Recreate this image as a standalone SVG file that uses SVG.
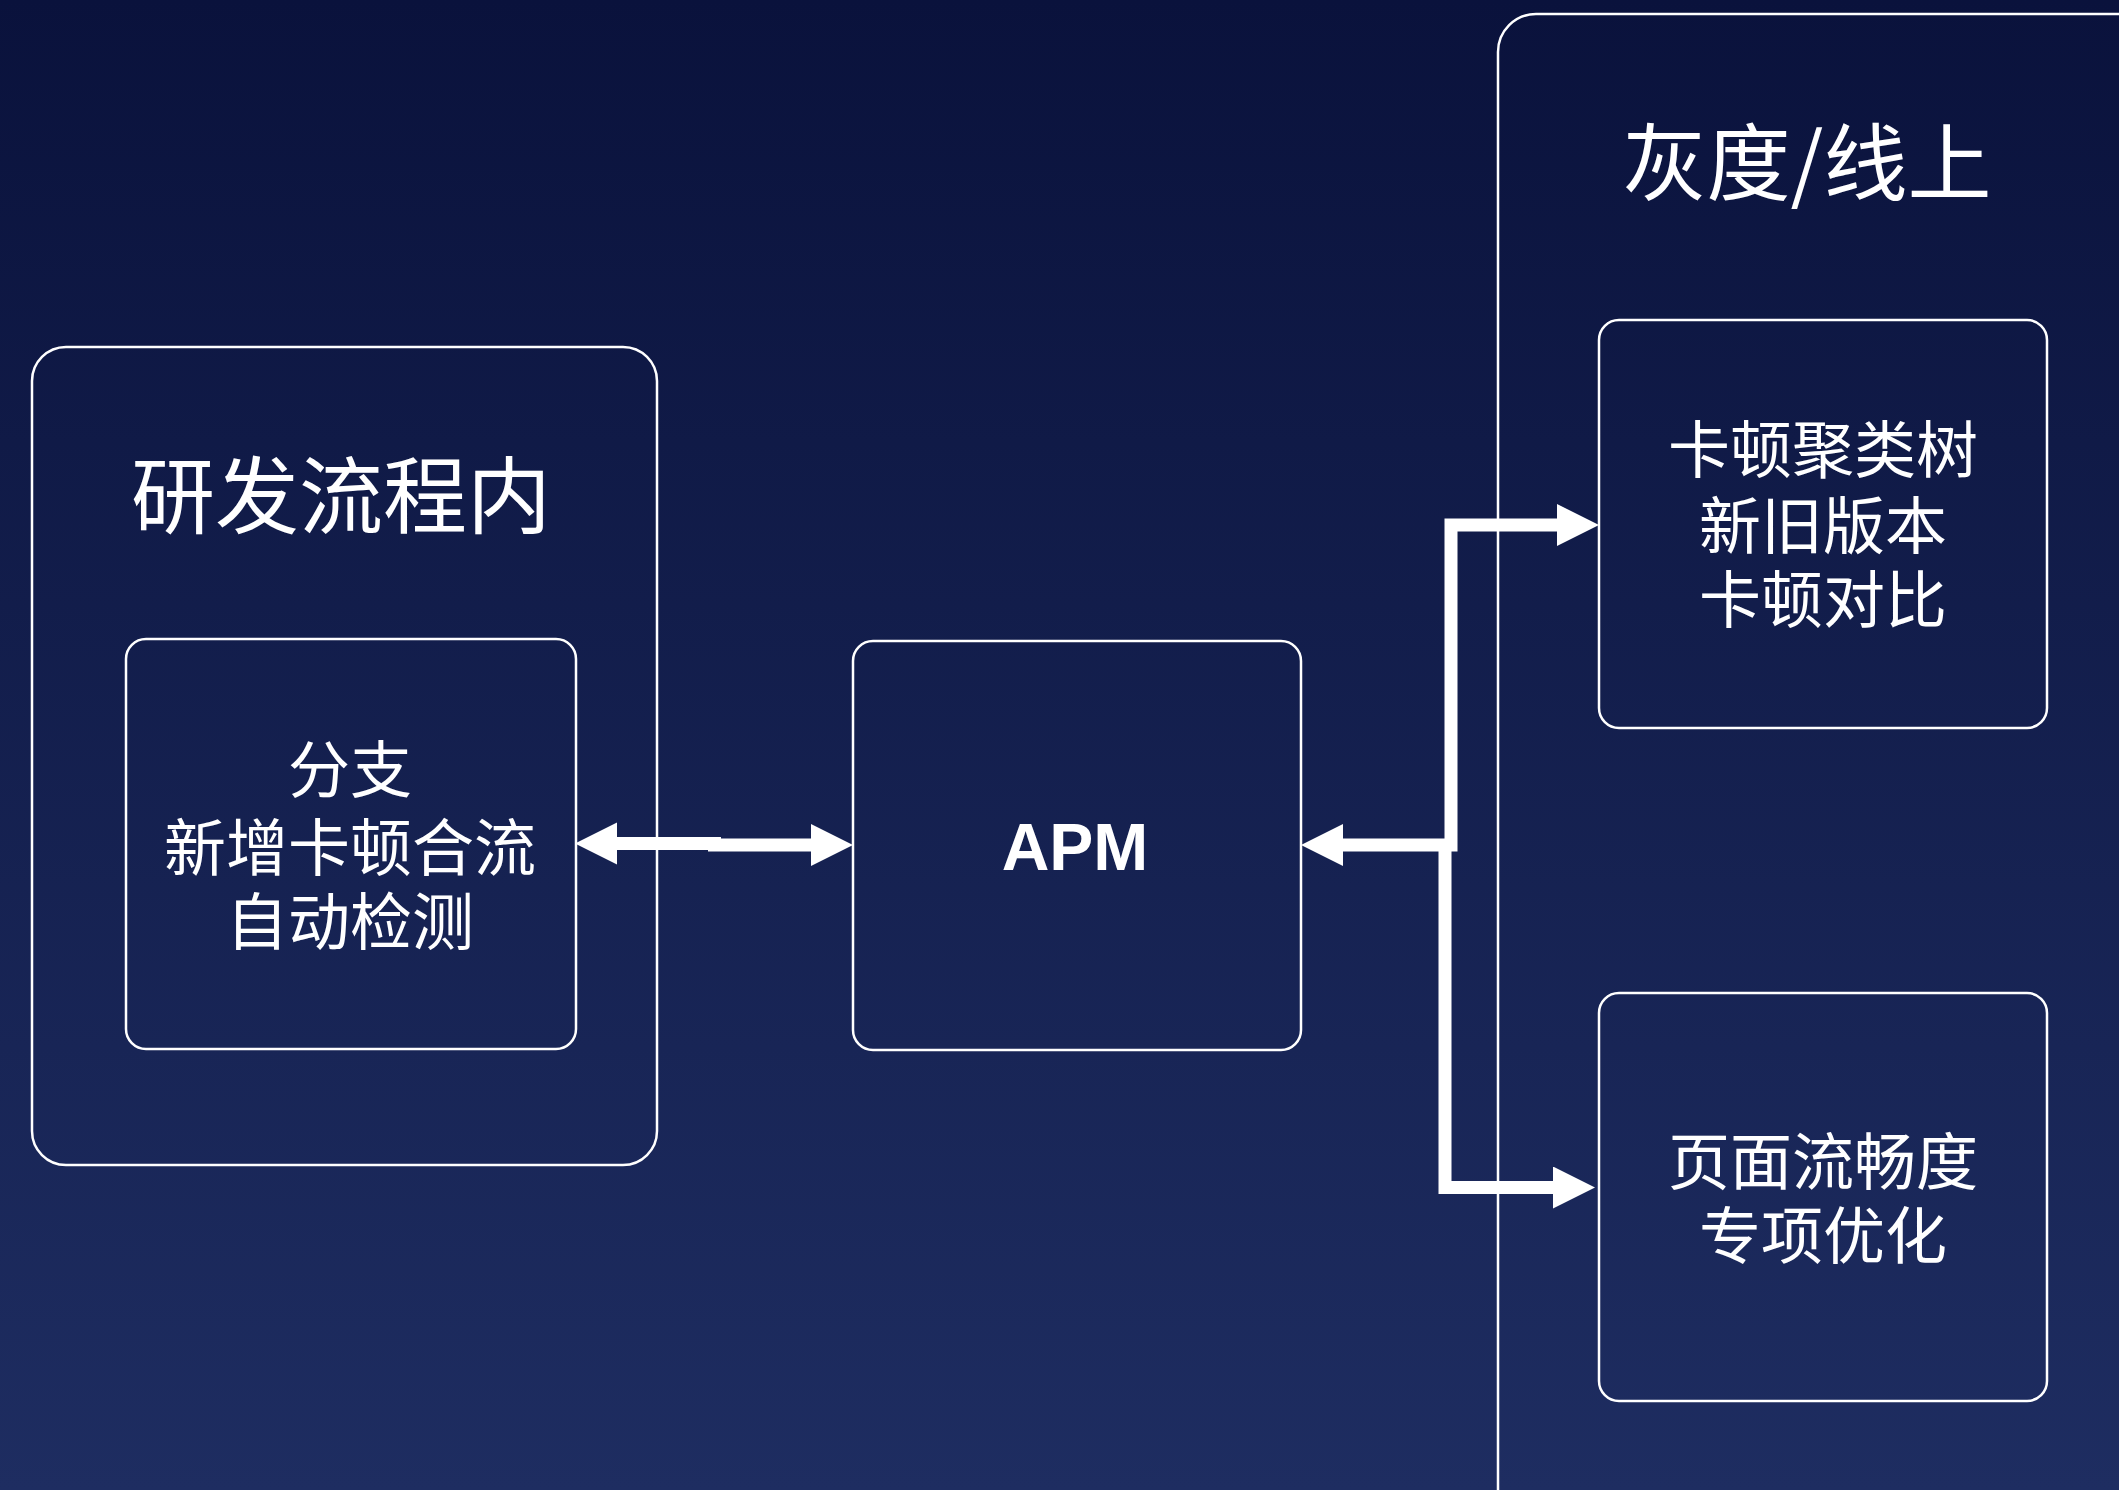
<svg xmlns="http://www.w3.org/2000/svg" width="2119" height="1490" viewBox="0 0 2119 1490">
  <defs>
    <linearGradient id="bg" x1="0" y1="0" x2="0" y2="1">
      <stop offset="0" stop-color="#0a123c"/>
      <stop offset="1" stop-color="#1e2d61"/>
    </linearGradient>
    <marker id="head" markerUnits="userSpaceOnUse" markerWidth="44" markerHeight="44" refX="0" refY="21" orient="auto-start-reverse" viewBox="0 0 44 44">
      <path d="M0,0 L42,21 L0,42 Z" fill="#ffffff"/>
    </marker>
    <style>
      .box { fill: none; stroke: #ffffff; stroke-width: 2.5; }
      .title { font-family: "Noto Sans CJK SC", "Noto Sans", sans-serif; font-size: 84px; fill: #ffffff; text-anchor: middle; }
      .lbl { font-family: "Noto Sans CJK SC", "Noto Sans", sans-serif; font-size: 62px; fill: #ffffff; text-anchor: middle; }
      .apm { font-family: "Liberation Sans", Arial, sans-serif; font-weight: bold; font-size: 66px; fill: #ffffff; text-anchor: middle; }
      .conn { fill: none; stroke: #ffffff; stroke-width: 13; stroke-linejoin: miter; }
    </style>
  </defs>
  <rect x="0" y="0" width="2119" height="1490" fill="url(#bg)"/>

  <g id="group-dev">
    <rect class="box" x="32" y="347" width="625" height="818" rx="34"/>
    <text class="title" x="341" y="527">研发流程内</text>
  </g>
  <g id="node-branch">
    <rect class="box" x="126" y="639" width="450" height="410" rx="20"/>
    <text class="lbl" x="350" y="793">分支</text>
    <text class="lbl" x="350" y="871">新增卡顿合流</text>
    <text class="lbl" x="350" y="945">自动检测</text>
  </g>
  <g id="node-apm">
    <rect class="box" x="853" y="641" width="448" height="409" rx="20"/>
    <text class="apm" x="1075" y="870">APM</text>
  </g>
  <g id="group-online">
    <rect class="box" x="1498" y="14" width="700" height="1560" rx="38"/>
    <text class="title" x="1807" y="194">灰度/线上</text>
  </g>
  <g id="node-cluster">
    <rect class="box" x="1599" y="320" width="448" height="408" rx="20"/>
    <text class="lbl" x="1823" y="473">卡顿聚类树</text>
    <text class="lbl" x="1823" y="549">新旧版本</text>
    <text class="lbl" x="1823" y="623">卡顿对比</text>
  </g>
  <g id="node-page">
    <rect class="box" x="1599" y="993" width="448" height="408" rx="20"/>
    <text class="lbl" x="1823" y="1185">页面流畅度</text>
    <text class="lbl" x="1823" y="1259">专项优化</text>
  </g>

  <g id="connectors">
    <path class="conn" d="M617,843.5 H721" marker-start="url(#head)"/>
    <path class="conn" d="M708,845 H811" marker-end="url(#head)"/>
    <path class="conn" d="M1343,845 H1451 V525 H1557" marker-start="url(#head)" marker-end="url(#head)"/>
    <path class="conn" d="M1445,845 V1187.5 H1553" marker-end="url(#head)"/>
  </g>
</svg>
